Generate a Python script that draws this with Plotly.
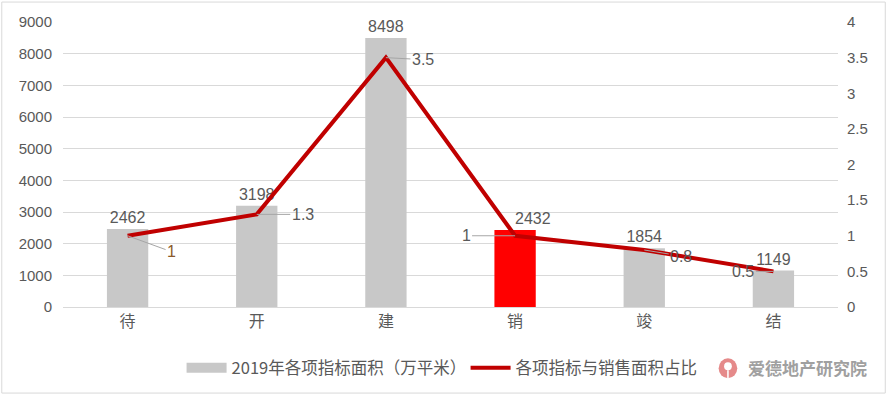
import plotly.graph_objects as go

categories = ["待", "开", "建", "销", "竣", "结"]
area_values = [2462, 3198, 8498, 2432, 1854, 1149]
ratio_values = [1, 1.3, 3.5, 1, 0.8, 0.5]
ratio_labels = ["1", "1.3", "3.5", "1", "0.8", "0.5"]
bar_colors = ["#C8C8C8", "#C8C8C8", "#C8C8C8", "#FF0000", "#C8C8C8", "#C8C8C8"]
bar_label_pad = [0, 0, 0, 8, 0, 0]
label_offsets = [(44, 16), (46, 0), (37, 2), (-49, 0), (37, 6), (-30, 0)]
label_colors = ["#8B5A2B", "#595959", "#595959", "#595959", "#595959", "#595959"]

FONT = "Liberation Sans, Noto Sans CJK SC, sans-serif"
CJK = "Noto Sans CJK SC, sans-serif"

fig = go.Figure()
fig.add_trace(go.Bar(
    x=categories, y=area_values, name="2019年各项指标面积（万平米）",
    marker=dict(color=bar_colors, line=dict(width=0)),
    text=["\u00a0" * p + str(v) for v, p in zip(area_values, bar_label_pad)],
    textposition="outside", constraintext="none",
    textfont=dict(color="#595959", size=16, family=FONT),
    cliponaxis=False, width=0.32, showlegend=False,
))
# legend swatch for the bars (wide gray block like the original)
fig.add_trace(go.Scatter(
    x=[None], y=[None], name="2019年各项指标面积（万平米）", mode="lines",
    line=dict(color="#C8C8C8", width=12), showlegend=True,
))
fig.add_trace(go.Scatter(
    x=categories, y=ratio_values, name="各项指标与销售面积占比",
    mode="lines", line=dict(color="#C00000", width=4), yaxis="y2",
))

for c, v, lab, (ax, ay), col in zip(categories, ratio_values, ratio_labels, label_offsets, label_colors):
    fig.add_annotation(
        x=c, y=v, yref="y2", text=lab, showarrow=True, arrowhead=0,
        arrowcolor="#A6A6A6", arrowwidth=1, ax=ax, ay=ay,
        font=dict(color=col, size=16, family=FONT), standoff=0,
    )

# outer border
fig.add_shape(type="rect", xref="paper", yref="paper", x0=-0.079, x1=1.061, y0=-0.302, y1=1.070,
              line=dict(color="#D9D9D9", width=1), fillcolor="rgba(0,0,0,0)", layer="above")
# watermark
fig.add_annotation(xref="paper", yref="paper", x=1.040, y=-0.214, text="<b>爱德地产研究院</b>",
                   showarrow=False, xanchor="right", yanchor="middle",
                   font=dict(color="#A0A0A0", size=17, family=CJK))
fig.add_shape(type="circle", xref="paper", yref="paper",
              x0=0.846, x1=0.870, y0=-0.250, y1=-0.180,
              fillcolor="#E58A8A", line=dict(width=0), layer="above")
fig.add_shape(type="circle", xref="paper", yref="paper",
              x0=0.8530, x1=0.8630, y0=-0.222, y1=-0.194,
              fillcolor="white", line=dict(width=0), layer="above")
fig.add_shape(type="rect", xref="paper", yref="paper",
              x0=0.8570, x1=0.8590, y0=-0.252, y1=-0.222,
              fillcolor="white", line=dict(width=0), layer="above")

fig.update_layout(
    width=888, height=398,
    margin=dict(l=63, r=50, t=22, b=91, autoexpand=False),
    paper_bgcolor="white", plot_bgcolor="white",
    font=dict(family=FONT, color="#595959", size=14),
    xaxis=dict(showgrid=False, showline=True, linecolor="#D9D9D9", ticks="",
               tickfont=dict(size=16, family=CJK, color="#595959")),
    yaxis=dict(range=[0, 9000], dtick=1000, showgrid=True, gridcolor="#D9D9D9",
               zeroline=False, tickfont=dict(size=15, color="#595959"), ticklabelstandoff=10),
    yaxis2=dict(range=[0, 4], dtick=0.5, overlaying="y", side="right", showgrid=False,
                zeroline=False, tickfont=dict(size=15, color="#595959"), ticklabelstandoff=8),
    legend=dict(orientation="h", x=0.153, xanchor="left", y=-0.214, yanchor="middle",
                font=dict(size=16.5, family=CJK, color="#595959"),
                bgcolor="rgba(0,0,0,0)",
                itemwidth=40, tracegroupgap=0, entrywidth=229),
    showlegend=True,
)

fig.write_html("out.html", post_script="document.body.style.margin='0px';",
               config={"displayModeBar": False})
